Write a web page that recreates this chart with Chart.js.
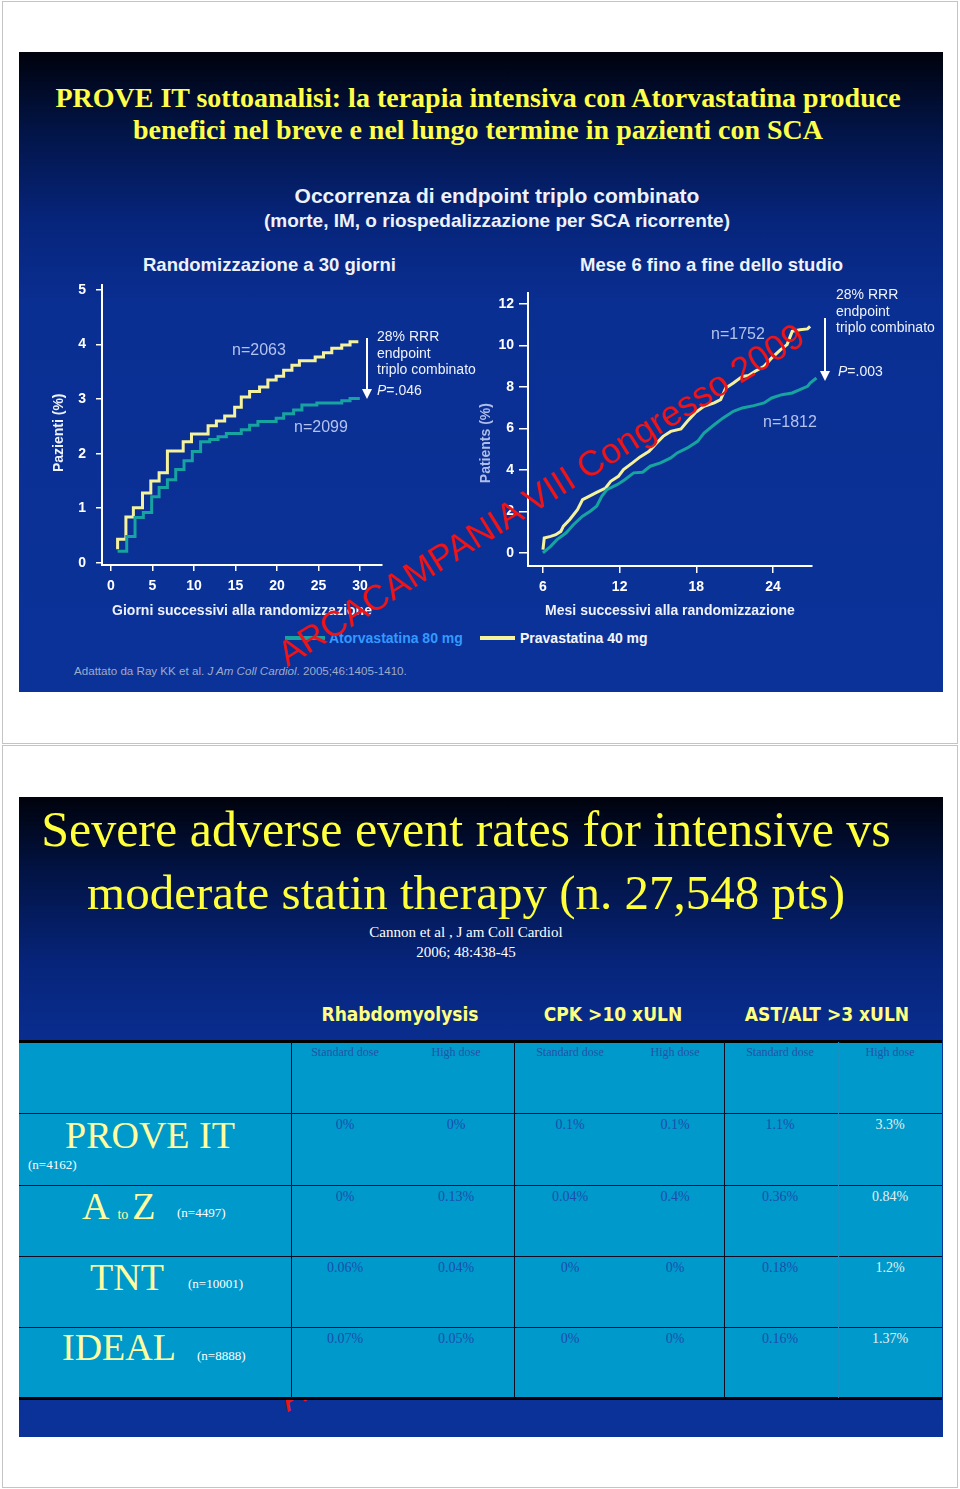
<!DOCTYPE html>
<html>
<head>
<meta charset="utf-8">
<script src="https://cdn.jsdelivr.net/npm/chart.js@4.4.0/dist/chart.umd.min.js"></script>
<style>
  body { margin: 0; width: 960px; height: 1489px; background: #fff; position: relative; overflow: hidden;
         font-family: "Liberation Sans", Arial, sans-serif; }
  .abs { position: absolute; white-space: nowrap; line-height: 1; }
  .page { position: absolute; left: 2px; width: 956px; border: 1px solid #c4c4c4; box-sizing: border-box; }
  .slide { position: absolute; left: 19px; width: 924px; height: 640px;
           background: linear-gradient(to bottom, #00020c 0%, #021446 12%, #06247a 26%, #0a2f93 40%, #0a3298 100%); }
  .serif { font-family: "Liberation Serif", "Times New Roman", serif; }
  canvas { position: absolute; }
  .wm { color: #ee1418; font-size: 35.5px; transform-origin: 0 30px; transform: rotate(-32deg); }
  .cell { position: absolute; font-family: "Liberation Serif", serif; line-height: 1; white-space: nowrap; transform: translateX(-50%); }
</style>
</head>
<body>
<div class="page" style="top:1px;height:743px"></div>
<div class="page" style="top:745px;height:743px"></div>

<!-- slide 1 -->
<div class="slide" style="top:52px"></div>
<div class="abs serif" style="left:19px;width:918px;text-align:center;top:84px;font-size:28px;font-weight:bold;color:#ffff4a">PROVE IT sottoanalisi: la terapia intensiva con Atorvastatina produce</div>
<div class="abs serif" style="left:19px;width:918px;text-align:center;top:116px;font-size:28px;font-weight:bold;color:#ffff4a">benefici nel breve e nel lungo termine in pazienti con SCA</div>
<div class="abs" style="left:197px;width:600px;text-align:center;top:185px;font-size:21px;font-weight:bold;color:#eef2fa">Occorrenza di endpoint triplo combinato</div>
<div class="abs" style="left:197px;width:600px;text-align:center;top:211px;font-size:19px;font-weight:bold;color:#eef2fa">(morte, IM, o riospedalizzazione per SCA ricorrente)</div>
<div class="abs" style="left:143px;top:256px;font-size:18.5px;font-weight:bold;color:#eef2fa">Randomizzazione a 30 giorni</div>
<div class="abs" style="left:580px;top:256px;font-size:18.5px;font-weight:bold;color:#eef2fa">Mese 6 fino a fine dello studio</div>

<canvas id="c30" width="430" height="390" style="left:40px;top:240px"></canvas>
<canvas id="clong" width="490" height="390" style="left:470px;top:240px"></canvas>

<div class="abs" style="left:232px;top:342px;font-size:16px;color:#b3c2ee">n=2063</div>
<div class="abs" style="left:294px;top:419px;font-size:16px;color:#b3c2ee">n=2099</div>
<div class="abs" style="left:711px;top:326px;font-size:16px;color:#b3c2ee">n=1752</div>
<div class="abs" style="left:763px;top:414px;font-size:16px;color:#b3c2ee">n=1812</div>

<div class="abs" style="left:377px;top:328px;font-size:14px;line-height:16.5px;color:#eef2fa">28% RRR<br>endpoint<br>triplo combinato</div>
<div class="abs" style="left:377px;top:383px;font-size:14px;color:#eef2fa"><i>P</i>=.046</div>
<div class="abs" style="left:836px;top:286px;font-size:14px;line-height:16.5px;color:#eef2fa">28% RRR<br>endpoint<br>triplo combinato</div>
<div class="abs" style="left:838px;top:364px;font-size:14px;color:#eef2fa"><i>P</i>=.003</div>

<!-- frecce -->
<div class="abs" style="left:366px;top:338px;width:2px;height:52px;background:#fff"></div>
<div class="abs" style="left:362px;top:389px;width:0;height:0;border-left:5px solid transparent;border-right:5px solid transparent;border-top:10px solid #fff"></div>
<div class="abs" style="left:824px;top:318px;width:2px;height:54px;background:#fff"></div>
<div class="abs" style="left:820px;top:371px;width:0;height:0;border-left:5px solid transparent;border-right:5px solid transparent;border-top:10px solid #fff"></div>

<div id="legend"></div>
<div class="abs" style="left:74px;top:665px;font-size:11.6px;color:#9eabc9">Adattato da Ray KK et al. <i>J Am Coll Cardiol</i>. 2005;46:1405-1410.</div>
<div class="abs wm" style="left:288px;top:638px">ARCACAMPANIA VIII Congresso 2009</div>

<!-- slide 2 -->
<div class="slide" style="top:797px"></div>
<div class="abs wm" style="left:288px;top:1383px">ARCACAMPANIA VIII Congresso 2009</div>
<div class="abs serif" style="left:0;width:932px;text-align:center;top:804px;font-size:50px;color:#ffff3a">Severe adverse event rates for intensive vs</div>
<div class="abs serif" style="left:0;width:932px;text-align:center;top:868px;font-size:49px;color:#ffff3a">moderate statin therapy (n. 27,548 pts)</div>
<div class="abs serif" style="left:0;width:932px;text-align:center;top:925px;font-size:15px;color:#fff">Cannon et al , J am Coll Cardiol</div>
<div class="abs serif" style="left:0;width:932px;text-align:center;top:945px;font-size:15px;color:#fff">2006; 48:438-45</div>
<div id="tbl"></div>

<script>
// serie e categorie
const seriesNames = ['Atorvastatina 80 mg', 'Pravastatina 40 mg'];
const seriesColors = ['#17a39f', '#f4f29c'];

// randomizzazione a 30 giorni (curve a gradini, % pazienti)
const atorvaDays   = [0.8, 1.9, 2.9, 3.9, 4.9, 5.8, 6.8, 7.8, 8.8, 9.8, 10.8, 11.9, 12.9, 13.9, 15.7, 16.7, 17.7, 19.9, 20.8, 22.0, 23.0, 24.8, 27.8, 28.8, 29.8];
const atorvaDayPct = [0.21, 0.48, 0.83, 0.92, 1.21, 1.38, 1.52, 1.71, 1.87, 2.04, 2.22, 2.26, 2.31, 2.37, 2.44, 2.52, 2.59, 2.65, 2.73, 2.80, 2.89, 2.93, 2.97, 3.01, 3.04];
const pravaDays    = [0.8, 0.8, 1.8, 2.7, 3.8, 4.8, 5.8, 6.8, 8.7, 9.7, 11.7, 12.7, 13.7, 14.9, 15.7, 16.7, 17.9, 18.9, 19.9, 20.8, 21.8, 22.7, 24.6, 25.6, 26.6, 27.8, 28.8, 29.8];
const pravaDayPct  = [0.25, 0.43, 0.84, 1.01, 1.28, 1.50, 1.65, 2.05, 2.22, 2.36, 2.51, 2.60, 2.69, 2.85, 3.04, 3.14, 3.22, 3.35, 3.42, 3.53, 3.62, 3.70, 3.77, 3.85, 3.93, 3.99, 4.05, 4.05];

// mese 6 fino a fine studio
const atorvaMonths   = [6.0, 6.6, 7.1, 7.8, 8.4, 9.1, 9.7, 10.2, 10.6, 11.0, 11.8, 12.4, 13.1, 13.8, 14.4, 15.2, 16.0, 16.5, 17.3, 18.1, 18.6, 19.4, 20.1, 20.9, 21.6, 22.5, 23.3, 23.9, 24.7, 25.5, 26.1, 26.7, 26.9, 27.4];
const atorvaMonthPct = [0.0, 0.32, 0.64, 0.96, 1.37, 1.77, 2.01, 2.25, 2.73, 3.05, 3.29, 3.53, 3.86, 3.89, 4.18, 4.34, 4.58, 4.82, 5.06, 5.38, 5.78, 6.18, 6.51, 6.83, 6.99, 7.10, 7.23, 7.47, 7.63, 7.71, 7.87, 8.03, 8.19, 8.43];
const pravaMonths    = [6.0, 6.1, 6.6, 7.0, 7.4, 7.6, 8.1, 8.7, 9.1, 9.6, 10.2, 10.9, 11.3, 11.9, 12.3, 13.0, 13.6, 14.3, 14.9, 15.4, 16.0, 16.8, 17.3, 17.9, 18.6, 19.4, 19.9, 20.3, 20.9, 21.6, 22.1, 22.6, 23.3, 23.9, 24.6, 25.1, 25.5, 26.1, 26.7, 26.9];
const pravaMonthPct  = [0.16, 0.72, 0.80, 0.88, 1.04, 1.29, 1.61, 2.09, 2.57, 2.73, 2.92, 3.13, 3.45, 3.69, 4.02, 4.34, 4.63, 4.90, 5.30, 5.62, 5.86, 5.98, 6.35, 6.75, 7.07, 7.23, 7.39, 7.95, 8.19, 8.51, 8.55, 8.76, 9.00, 9.40, 9.80, 10.04, 10.68, 10.76, 10.80, 10.92];

// etichette degli assi
const dayTicks = [0, 5, 10, 15, 20, 25, 30];
const monthTicks = [6, 12, 18, 24];
const pctTicks30 = [0, 1, 2, 3, 4, 5];
const pctTicksLong = [0, 2, 4, 6, 8, 10, 12];

// tabella eventi avversi (%)
const studies = ['PROVE IT', 'A to Z', 'TNT', 'IDEAL'];
const studyN = ['(n=4162)', '(n=4497)', '(n=10001)', '(n=8888)'];
const outcomes = ['Rhabdomyolysis', 'CPK >10 xULN', 'AST/ALT >3 xULN'];
const doseLabels = ['Standard dose', 'High dose'];
const rhabdoStd  = [0, 0, 0.06, 0.07];
const rhabdoHigh = [0, 0.13, 0.04, 0.05];
const cpkStd     = [0.1, 0.04, 0, 0];
const cpkHigh    = [0.1, 0.4, 0, 0];
const astStd     = [1.1, 0.36, 0.18, 0.16];
const astHigh    = [3.3, 0.84, 1.2, 1.37];

Chart.defaults.font.family = '"Liberation Sans", Arial, sans-serif';
Chart.defaults.color = '#fff';

const pts = (xs, ys) => xs.map((x, i) => ({ x: x, y: ys[i] }));
const tickFont = { size: 14, weight: 'bold' };
const titleFont = { size: 14, weight: 'bold' };
const pad = n => '\u00a0'.repeat(n); // sposta il titolo verticale verso il basso

function makeLine(x, y, color, stepped) {
  return { data: pts(x, y), borderColor: color, borderWidth: 3, pointRadius: 0, fill: false,
           tension: 0, stepped: stepped, clip: 8 };
}

function axis(opts) {
  const ticks = opts.ticks;
  return {
    type: 'linear', min: opts.min, max: opts.max,
    afterBuildTicks: s => { s.ticks = ticks.map(v => ({ value: v })); },
    afterFit: s => { if (opts.width) s.width = opts.width; if (opts.height) s.height = opts.height; },
    grid: { drawOnChartArea: false, color: '#fff', lineWidth: 1.5, tickLength: opts.tickLength },
    border: { color: '#fff', width: 2 },
    ticks: { color: '#fff', font: tickFont, padding: opts.padding, maxRotation: 0, autoSkip: false },
    title: { display: true, text: opts.title, color: opts.titleColor || '#eef2fa', font: titleFont, padding: opts.titlePadding }
  };
}

// grafico 0-30 giorni
new Chart(document.getElementById('c30'), {
  type: 'line',
  data: { datasets: [
    makeLine(atorvaDays, atorvaDayPct, seriesColors[0], true),
    makeLine(pravaDays, pravaDayPct, seriesColors[1], true)
  ] },
  options: {
    responsive: false, animation: false,
    layout: { padding: { left: 0, top: 45, right: 88, bottom: 0 } },
    plugins: { legend: { display: false }, tooltip: { enabled: false } },
    scales: {
      x: axis({ min: -1.08, max: 32.65, ticks: dayTicks, height: 65, tickLength: 6, padding: 7,
                title: 'Giorni successivi alla randomizzazione', titlePadding: { top: 0, bottom: 10.6 } }),
      y: axis({ min: -0.04, max: 5.09, ticks: pctTicks30, width: 62, tickLength: 6, padding: 10,
                title: 'Pazienti (%)' + pad(4), titlePadding: { top: 10.6, bottom: 0 } })
    }
  }
});

// grafico mese 6 - fine studio
new Chart(document.getElementById('clong'), {
  type: 'line',
  data: { datasets: [
    makeLine(atorvaMonths, atorvaMonthPct, seriesColors[0], false),
    makeLine(pravaMonths, pravaMonthPct, seriesColors[1], false)
  ] },
  options: {
    responsive: false, animation: false,
    layout: { padding: { left: 0, top: 53, right: 148, bottom: 0 } },
    plugins: { legend: { display: false }, tooltip: { enabled: false } },
    scales: {
      x: axis({ min: 4.83, max: 27.05, ticks: monthTicks, height: 64, tickLength: 7, padding: 6,
                title: 'Mesi successivi alla randomizzazione', titlePadding: { top: 0, bottom: 10.6 } }),
      y: axis({ min: -0.63, max: 12.53, ticks: pctTicksLong, width: 58, tickLength: 9, padding: 5,
                title: 'Patients (%)' + pad(7), titleColor: '#aebdea', titlePadding: { top: 7.6, bottom: 0 } })
    }
  }
});

// legenda comune
const legendSpots = [{ line: 285, w: 40, text: 329, color: '#3399ff' }, { line: 480, w: 35, text: 520, color: '#f4f6fb' }];
document.getElementById('legend').innerHTML = seriesNames.map((name, i) => {
  const p = legendSpots[i];
  return `<div class="abs" style="left:${p.line}px;top:636px;width:${p.w}px;height:4px;background:${seriesColors[i]}"></div>` +
         `<div class="abs" style="left:${p.text}px;top:631px;font-size:14px;font-weight:bold;color:${p.color}">${name}</div>`;
}).join('');

// tabella
const cols = [rhabdoStd, rhabdoHigh, cpkStd, cpkHigh, astStd, astHigh];
const colCenters = [345, 456, 570, 675, 780, 890];
const groupCenters = [400, 613, 827];
const rowTops = [1113, 1185, 1256, 1327];
let html = '<div class="abs" style="left:19px;top:1042px;width:923px;height:356px;background:#0099cc"></div>';
html += '<div class="abs" style="left:19px;top:1040px;width:923px;height:3px;background:#000"></div>';
html += '<div class="abs" style="left:19px;top:1397px;width:923px;height:3px;background:#000"></div>';
rowTops.forEach(t => { html += `<div class="abs" style="left:19px;top:${t}px;width:923px;height:1px;background:#0a0a20"></div>`; });
[291, 514, 724].forEach(x => { html += `<div class="abs" style="left:${x}px;top:1042px;width:1px;height:356px;background:#0a0a20"></div>`; });
html += '<div class="abs" style="left:838px;top:1042px;width:1px;height:356px;background:#1890c4"></div>';
outcomes.forEach((o, i) => {
  html += `<div class="cell" style="left:${groupCenters[i]}px;top:1005px;font-family:'DejaVu Sans Condensed','DejaVu Sans',sans-serif;font-weight:bold;font-size:19px;color:#ffff80">${o}</div>`;
});
colCenters.forEach((cx, j) => {
  html += `<div class="cell" style="left:${cx}px;top:1046px;font-size:12px;color:#2352a6">${doseLabels[j % 2]}</div>`;
  cols[j].forEach((v, r) => {
    const c = j === 5 ? '#e2f0ee' : '#1b4dac';
    html += `<div class="cell" style="left:${cx}px;top:${rowTops[r] + 5}px;font-size:14px;color:${c}">${v}%</div>`;
  });
});
// etichette degli studi
const yel = '#ffffa0';
html += `<div class="abs serif" style="left:65px;top:1116px;font-size:38px;color:${yel}">${studies[0]}</div>`;
html += `<div class="abs serif" style="left:28px;top:1158px;font-size:13px;color:#fff">${studyN[0]}</div>`;
const az = studies[1].split(' ');
html += `<div class="abs serif" style="left:82px;top:1187px;font-size:38px;color:${yel}">${az[0]}<span style="font-size:14px;margin:0 4px 0 8px">${az[1]}</span>${az[2]}</div>`;
html += `<div class="abs serif" style="left:177px;top:1206px;font-size:13px;color:#fff">${studyN[1]}</div>`;
html += `<div class="abs serif" style="left:90px;top:1258px;font-size:38px;color:${yel}">${studies[2]}</div>`;
html += `<div class="abs serif" style="left:188px;top:1277px;font-size:13px;color:#fff">${studyN[2]}</div>`;
html += `<div class="abs serif" style="left:62px;top:1328px;font-size:38px;color:${yel}">${studies[3]}</div>`;
html += `<div class="abs serif" style="left:197px;top:1349px;font-size:13px;color:#fff">${studyN[3]}</div>`;
document.getElementById('tbl').innerHTML = html;
</script>
</body>
</html>
